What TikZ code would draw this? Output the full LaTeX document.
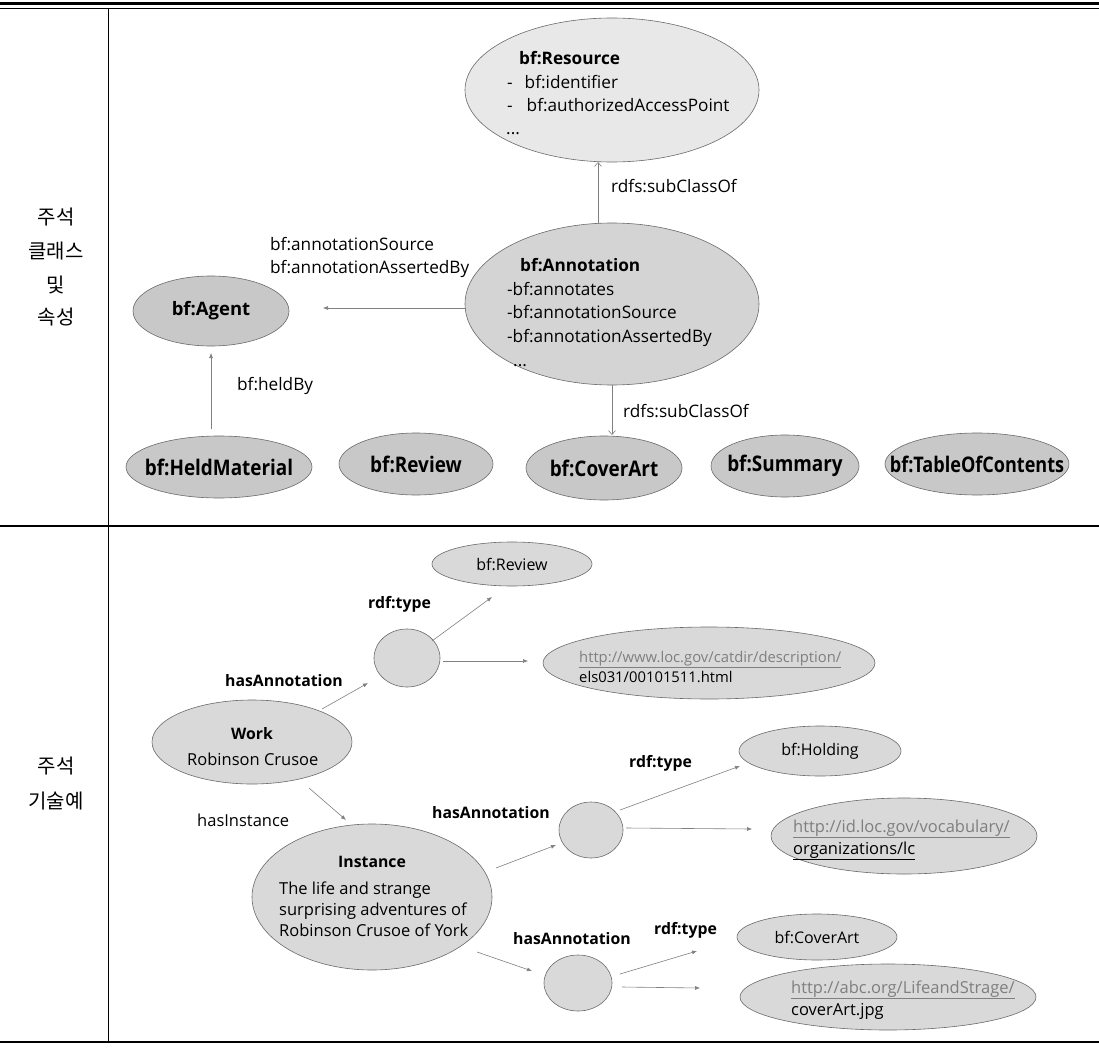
\documentclass[tikz,border=0pt]{standalone}
\usepackage{fontspec}
\setmainfont{Open Sans}
\newfontfamily\krfont{Noto Sans CJK KR}
\usetikzlibrary{shapes.geometric,arrows.meta,calc}
\definecolor{lineg}{HTML}{6A6A6A}
\definecolor{arrg}{HTML}{808080}
\definecolor{fillA}{HTML}{E8E8E8}
\definecolor{fillB}{HTML}{D4D4D4}
\definecolor{fillC}{HTML}{C8C8C8}
\definecolor{fillD}{HTML}{D9D9D9}
\definecolor{urlg}{HTML}{7F7F7F}
\newcommand{\clsname}[2][0.88]{\makebox[0pt][c]{\scalebox{#1}[1]{#2}}}
\begin{document}
\begin{tikzpicture}[x=1pt,y=-1pt,
  ov/.style={ellipse,draw=lineg,line width=0.6pt,inner sep=0pt,outer sep=0pt},
  arr/.style={draw=arrg,line width=0.6pt,-{Latex[length=5pt,width=4pt]}},
  sub/.style={draw=arrg,line width=0.6pt,-{Straight Barb[length=4pt,width=7pt]}},
  t/.style={inner sep=0pt,anchor=base west,font=\fontsize{17.2}{20}\selectfont},
  tb/.style={inner sep=0pt,anchor=base west,font=\fontsize{17.2}{20}\selectfont\bfseries},
  s/.style={inner sep=0pt,anchor=base west,font=\fontsize{16.5}{20}\selectfont},
  sb/.style={inner sep=0pt,anchor=base west,font=\fontsize{15.8}{20}\selectfont\bfseries},
  kr/.style={inner sep=0pt,font=\krfont\fontsize{20}{24}\selectfont},
  cls/.style={ov,fill=fillC,font=\fontsize{21.5}{24}\selectfont\bfseries},
  inst/.style={ov,fill=fillD}]
\useasboundingbox (0,0) rectangle (1099,1048);
\fill[white] (0,0) rectangle (1099,1048);
% table rules
\draw[line width=2.2pt] (0,3.5) -- (1099,3.5);
\draw[line width=0.9pt] (0,8) -- (1099,8);
\draw[line width=0.9pt] (108,8) -- (108,1042);
\draw[line width=1.8pt] (0,526) -- (1099,526);
\draw[line width=1.8pt] (0,1042) -- (1099,1042);
% row labels
\node[kr] (k1) at (56,217) {주석};
\node[kr] (k2) at (56,251) {클래스};
\node[kr] (k3) at (56,285) {및};
\node[kr] (k4) at (56,317) {속성};
\node[kr] (k5) at (56,766) {주석};
\node[kr] (k6) at (56,801) {기술예};

% ---------- top section ----------
\node[ov,fill=fillA,minimum width=294pt,minimum height=144pt] (res) at (612,90) {};
\node[tb] (resT) at (519,65) {bf:Resource};
\node[t] (res1) at (507,89) {-\hspace{12pt}bf:identifier};
\node[t] (res2) at (507,112) {-\hspace{14pt}bf:authorizedAccessPoint};
\node[t] (res3) at (506,135) {...};

\node[ov,fill=fillB,minimum width=294pt,minimum height=162pt] (ann) at (612,304) {};
\node[tb] (annT) at (520,272) {bf:Annotation};
\node[t] (ann1) at (507,295) {-bf:annotates};
\node[t] (ann2) at (507,319) {-bf:annotationSource};
\node[t] (ann3) at (507,342) {-bf:annotationAssertedBy};
\node[t] (ann4) at (513,366) {...};

\node[cls,minimum width=156pt,minimum height=70pt,font=\fontsize{18.5}{22}\selectfont\bfseries] (agent) at (211,311) {\makebox[0pt][c]{bf:Agent}};

\node[cls,minimum width=186pt,minimum height=62pt] (hm) at (219,467) {\clsname{bf:HeldMaterial}};
\node[cls,minimum width=154pt,minimum height=62pt] (rv) at (416,464) {\clsname{bf:Review}};
\node[cls,minimum width=156pt,minimum height=64pt] (cov) at (604,468) {\clsname{bf:CoverArt}};
\node[cls,minimum width=148pt,minimum height=62pt] (sum) at (785,466) {\clsname{bf:Summary}};
\node[cls,minimum width=184pt,minimum height=62pt] (toc) at (977,464) {\clsname[0.84]{bf:TableOfContents}};

\draw[sub] ($(ann)+(-14,-80)$) -- ($(res)+(-14,72)$);
\node[t] (l1) at (611,193) {rdfs:subClassOf};
\draw[sub] ($(ann)+(0,81)$) -- ($(cov)+(8,-33)$);
\node[t] (l2) at (623,417) {rdfs:subClassOf};
\draw[arr] ($(ann)+(-146,4)$) -- ($(agent)+(112,-3)$);
\node[t] (l3) at (270,251) {bf:annotationSource};
\node[t] (l4) at (270,274) {bf:annotationAssertedBy};
\draw[arr] ($(hm)+(-8,-38)$) -- ($(agent)+(0,42)$);
\node[t] (l5) at (237,390) {bf:heldBy};

% ---------- bottom section ----------
\node[inst,minimum width=160pt,minimum height=44pt,font=\fontsize{16}{18}\selectfont] (brv) at (512,564) {bf:Review};
\node[sb] (rt1) at (368,608) {rdf:type};
\node[inst,minimum width=66pt,minimum height=58pt] (c1) at (407,658) {};
\node[inst,minimum width=332pt,minimum height=72pt] (u1) at (709,663) {};
\node[s,font=\fontsize{14.8}{18}\selectfont] (u1a) at (579,662) {\textcolor{urlg}{\underline{http://www.loc.gov/catdir/description/}}};
\node[s,font=\fontsize{14.8}{18}\selectfont] (u1b) at (579,682) {els031/00101511.html};
\node[sb] (ha1) at (225,686) {hasAnnotation};

\node[inst,minimum width=200pt,minimum height=84pt] (work) at (252,742) {};
\node[sb] (workT) at (231,739) {Work};
\node[s] (workS) at (187,765) {Robinson Crusoe};
\node[s] (hi) at (197,826) {hasInstance};

\node[inst,minimum width=240pt,minimum height=146pt] (ins) at (372,897) {};
\node[sb] (insT) at (338,867) {Instance};
\node[s] (ins1) at (279,894) {The life and strange};
\node[s] (ins2) at (279,915) {surprising adventures of};
\node[s] (ins3) at (279,936) {Robinson Crusoe of York};

\node[sb] (ha2) at (432,818) {hasAnnotation};
\node[inst,minimum width=64pt,minimum height=56pt] (c2) at (591,830) {};
\node[sb] (rt2) at (629,767) {rdf:type};
\node[inst,minimum width=162pt,minimum height=50pt,font=\fontsize{16}{18}\selectfont] (hold) at (820,751) {bf:Holding};
\node[inst,minimum width=266pt,minimum height=76pt] (u2) at (904,836) {};
\node[s] (u2a) at (793,832) {\textcolor{urlg}{\underline{http://id.loc.gov/vocabulary/}}};
\node[s] (u2b) at (793,854) {\underline{organizations/lc}};

\node[sb] (ha3) at (513,944) {hasAnnotation};
\node[inst,minimum width=68pt,minimum height=56pt] (c3) at (578,983) {};
\node[sb] (rt3) at (654,934) {rdf:type};
\node[inst,minimum width=160pt,minimum height=46pt,font=\fontsize{16}{18}\selectfont] (bca) at (817,937) {bf:CoverArt};
\node[inst,minimum width=296pt,minimum height=66pt] (u3) at (888,997) {};
\node[s] (u3a) at (791,993) {\textcolor{urlg}{\underline{http://abc.org/LifeandStrage/}}};
\node[s] (u3b) at (791,1015) {coverArt.jpg};

% connectors
\draw[arr] ($(c1)+(25,-17)$) -- ($(brv)+(-20,33)$);
\draw[arr] ($(c1)+(36,3)$) -- ($(u1)+(-181,-2)$);
\draw[arr] ($(work)+(70,-33)$) -- ($(c1)+(-39,25)$);
\draw[arr] ($(work)+(57,46)$) -- ($(ins)+(-26,-77)$);
\draw[arr] ($(ins)+(124,-29)$) -- ($(c2)+(-35,15)$);
\draw[arr] ($(c2)+(29,-20)$) -- ($(hold)+(-80,15)$);
\draw[arr] ($(c2)+(35,-2)$) -- ($(u2)+(-152,-7)$);
\draw[arr] ($(ins)+(105,55)$) -- ($(c3)+(-46,-12)$);
\draw[arr] ($(c3)+(42,-9)$) -- ($(bca)+(-120,14)$);
\draw[arr] ($(c3)+(44,4)$) -- ($(u3)+(-188,-9)$);
\end{tikzpicture}
\end{document}
